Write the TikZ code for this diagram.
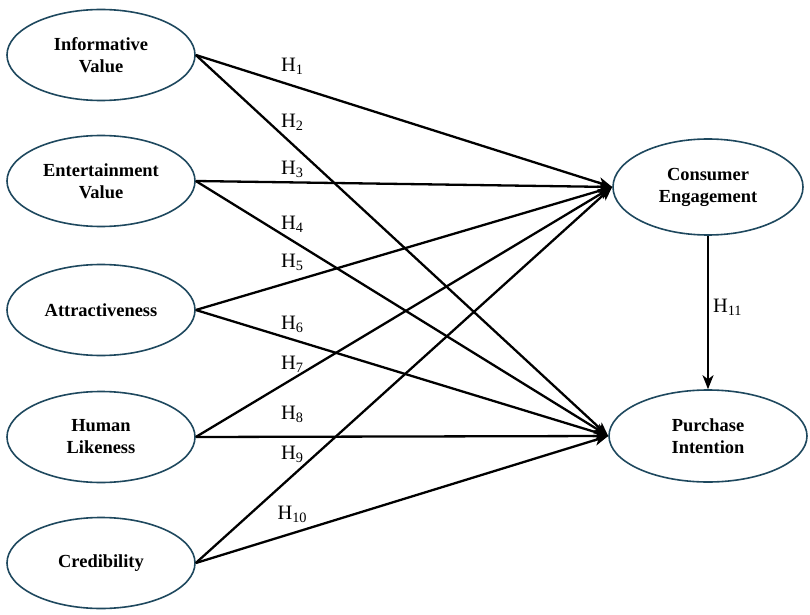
\documentclass[tikz,border=0pt]{standalone}
\usepackage{fontspec}
\setmainfont{Liberation Serif}
\usetikzlibrary{arrows.meta,shapes.geometric}
\definecolor{tealCS}{RGB}{30,72,94}

\begin{document}
\begin{tikzpicture}[x=1bp,y=-1bp,
      construct/.style={ellipse,draw=tealCS,line width=1.6bp,inner sep=0pt,minimum width=188bp,minimum height=91bp,align=center,font=\fontsize{18.5}{22}\selectfont\bfseries},
      arr/.style={-{Stealth[length=14bp,width=11bp,inset=4bp]},line width=2.3bp},
      hyp/.style={font=\fontsize{20.5}{24}\selectfont,inner sep=0pt}
    ]
    \useasboundingbox (0,0) rectangle (810,615);
    \node[construct] (iv) at (101,55) {Informative\\Value};
    \node[construct] (ev) at (101,181) {Entertainment\\Value};
    \node[construct] (attr) at (101,310) {Attractiveness};
    \node[construct] (hl) at (101,437) {Human\\Likeness};
    \node[construct] (cred) at (101,563) {Credibility};
    \node[construct,minimum width=190bp,minimum height=96bp] (ce) at (708,187) {Consumer\\Engagement};
    \node[construct,minimum width=198bp,minimum height=92bp] (pi) at (708,436) {Purchase\\Intention};
    \draw[arr] (iv.east) -- node[hyp,pos=0.232,yshift=19bp] {H\textsubscript{1}} (ce.west);
    \draw[arr] (iv.east) -- node[hyp,pos=0.234,yshift=22bp] {H\textsubscript{2}} (pi.west);
    \draw[arr] (ev.east) -- node[hyp,pos=0.232,yshift=13bp] {H\textsubscript{3}} (ce.west);
    \draw[arr] (ev.east) -- node[hyp,pos=0.234,yshift=16bp] {H\textsubscript{4}} (pi.west);
    \draw[arr] (attr.east) -- node[hyp,pos=0.232,yshift=19bp] {H\textsubscript{5}} (ce.west);
    \draw[arr] (attr.east) -- node[hyp,pos=0.234,yshift=15bp] {H\textsubscript{6}} (pi.west);
    \draw[arr] (hl.east) -- node[hyp,pos=0.232,yshift=15bp] {H\textsubscript{7}} (ce.west);
    \draw[arr] (hl.east) -- node[hyp,pos=0.234,yshift=22bp] {H\textsubscript{8}} (pi.west);
    \draw[arr] (cred.east) -- node[hyp,pos=0.232,yshift=21bp] {H\textsubscript{9}} (ce.west);
    \draw[arr] (cred.east) -- node[hyp,pos=0.234,yshift=19bp] {H\textsubscript{10}} (pi.west);
    \draw[arr,line width=2bp] (ce) -- node[hyp,midway,right=4bp,yshift=5bp] {H\textsubscript{11}} (pi);
  \end{tikzpicture}
\end{document}
